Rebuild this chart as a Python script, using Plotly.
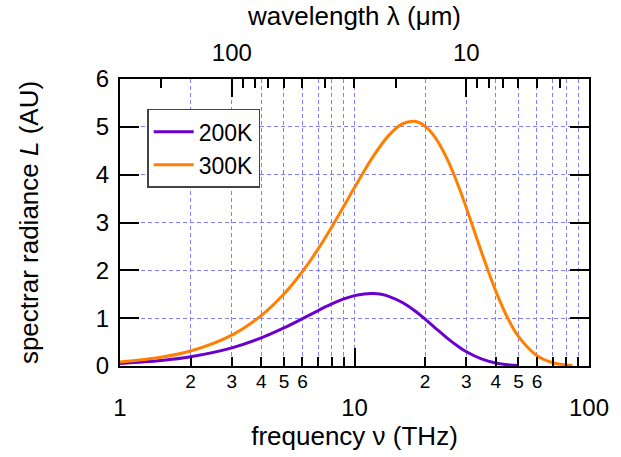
import plotly.graph_objects as go

# ---- data ----
freq_200 = [1, 1.5, 2, 3, 4, 5, 6, 7, 8, 9, 10, 11, 12, 13, 14, 16, 18, 20, 22, 25, 28, 30, 35, 40, 45, 50]
rad_200 = [0.054, 0.115, 0.192, 0.378, 0.586, 0.795, 0.989, 1.159, 1.297, 1.402, 1.472, 1.507, 1.516, 1.500, 1.457,
           1.327, 1.160, 0.979, 0.804, 0.573, 0.391, 0.297, 0.142, 0.064, 0.027, 0.011]

freq_300 = [1, 1.5, 2, 3, 4, 5, 6, 7, 8, 9, 10, 12, 14, 16, 18, 20, 22, 25, 28, 30, 35, 40, 45, 50, 60, 70, 80, 85]
rad_300 = [0.085, 0.184, 0.313, 0.646, 1.053, 1.504, 1.976, 2.449, 2.908, 3.338, 3.730, 4.377, 4.821, 5.060,
           5.115, 5.013, 4.789, 4.299, 3.711, 3.304, 2.347, 1.571, 1.003, 0.619, 0.216, 0.069, 0.021, 0.011]

# bottom axis ticks (THz)
freq_major = [1, 10, 100]
freq_major_text = ["1", "10", "100"]
freq_minor = [2, 3, 4, 5, 6, 7, 8, 9, 20, 30, 40, 50, 60, 70, 80, 90]
freq_minor_labeled = [2, 3, 4, 5, 6, 20, 30, 40, 50, 60]
freq_minor_text = ["2", "3", "4", "5", "6", "2", "3", "4", "5", "6"]

# top axis ticks (wavelength, um)
lam_major = [100, 10]
lam_major_text = ["100", "10"]
lam_minor = [200, 90, 80, 70, 60, 50, 40, 30, 20, 9, 8, 7, 6, 5, 4]
C_UM_THZ = 299.792458  # lambda(um) * nu(THz)

y_ticks = [0, 1, 2, 3, 4, 5, 6]

# ---- styling ----
FONT = "Liberation Sans, Arial, sans-serif"
GRID = "#7f7fff"
PURPLE = "#6a00cf"
ORANGE = "#ff7f00"
DASH = "4px,3px"

fig = go.Figure()
fig.add_trace(go.Scatter(x=freq_200, y=rad_200, mode="lines", name="200K",
                         line=dict(color=PURPLE, width=3, shape="spline")))
fig.add_trace(go.Scatter(x=freq_300, y=rad_300, mode="lines", name="300K",
                         line=dict(color=ORANGE, width=3, shape="spline")))
# invisible traces that activate the extra axes
fig.add_trace(go.Scatter(x=[1, 100], y=[None, None], xaxis="x2", showlegend=False, hoverinfo="skip"))
fig.add_trace(go.Scatter(x=[1, 100], y=[None, None], xaxis="x3", showlegend=False, hoverinfo="skip"))

fig.update_layout(
    width=621, height=457,
    margin=dict(l=120, r=23, t=79, b=90),
    paper_bgcolor="white", plot_bgcolor="white",
    font=dict(family=FONT, size=24, color="black"),
    showlegend=True,
    legend=dict(x=0.058, y=0.896, xanchor="left", yanchor="top",
                bgcolor="white", bordercolor="#444", borderwidth=1.5,
                font=dict(size=23), tracegroupgap=0, itemwidth=40),
    xaxis=dict(
        type="log", range=[0, 2],
        tickmode="array", tickvals=freq_major, ticktext=freq_major_text,
        ticks="inside", ticklen=18, tickwidth=2, tickcolor="black",
        showline=True, linecolor="black", linewidth=2, mirror=False,
        showgrid=True, gridcolor=GRID, griddash=DASH, gridwidth=1,
        tickfont=dict(size=24), ticklabelstandoff=19,
        minor=dict(tickmode="array", tickvals=freq_minor, ticks="inside", ticklen=9,
                   tickwidth=2, tickcolor="black", showgrid=True, gridcolor=GRID,
                   griddash=DASH, gridwidth=1),
        title=dict(text="frequency ν (THz)", font=dict(size=26), standoff=6),
        zeroline=False,
    ),
    xaxis3=dict(
        type="log", range=[0, 2], overlaying="x", anchor="y", side="bottom",
        tickmode="array", tickvals=freq_minor_labeled, ticktext=freq_minor_text,
        ticks="", showline=False, showgrid=False, zeroline=False,
        tickfont=dict(size=19), ticklabelstandoff=2,
    ),
    xaxis2=dict(
        type="log", range=[0, 2], overlaying="x", anchor="y", side="top",
        tickmode="array", tickvals=[C_UM_THZ / l for l in lam_major], ticktext=lam_major_text,
        ticks="inside", ticklen=18, tickwidth=2, tickcolor="black",
        showline=True, linecolor="black", linewidth=2,
        showgrid=False, zeroline=False,
        tickfont=dict(size=24), ticklabelstandoff=6,
        minor=dict(tickmode="array", tickvals=[C_UM_THZ / l for l in lam_minor], ticks="inside",
                   ticklen=9, tickwidth=2, tickcolor="black", showgrid=False),
        title=dict(text="wavelength λ (μm)", font=dict(size=26), standoff=6),
    ),
    yaxis=dict(
        range=[0, 6], tickmode="array", tickvals=y_ticks,
        ticks="inside", ticklen=19, tickwidth=2, tickcolor="black",
        showline=True, linecolor="black", linewidth=2, mirror="ticks",
        showgrid=True, gridcolor=GRID, griddash=DASH, gridwidth=1,
        zeroline=False, tickfont=dict(size=24), ticklabelstandoff=4,
        title=dict(text="spectrar radiance <i>L</i> (AU)", font=dict(size=26), standoff=50),
    ),
)

fig.write_html("out.html")
